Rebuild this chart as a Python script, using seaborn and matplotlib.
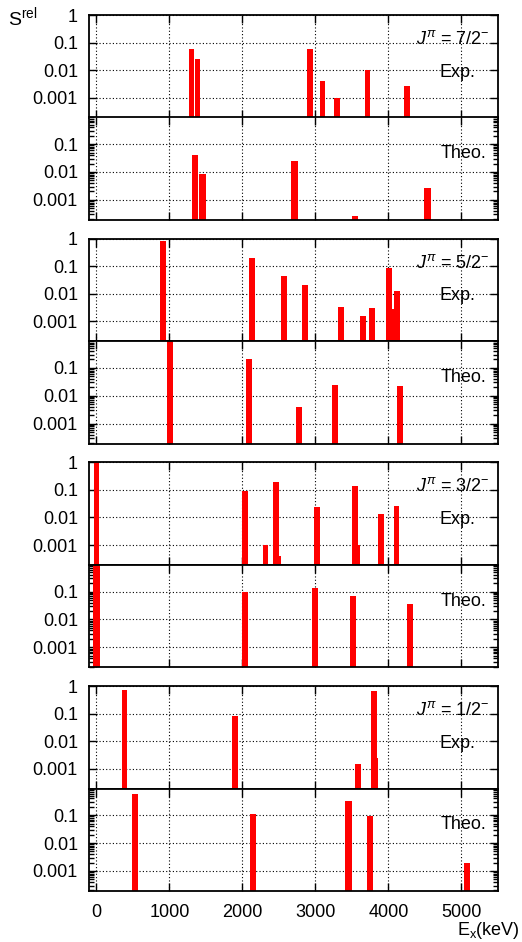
import numpy as np
import pandas as pd
import matplotlib
matplotlib.use("Agg")
import matplotlib.pyplot as plt
from matplotlib.ticker import LogLocator, FixedLocator, FuncFormatter, NullLocator
import seaborn as sns

# Relative spectroscopic strengths, excitation energy in keV
spins = ["7/2", "5/2", "3/2", "1/2"]

e_exp_72 = [1300, 1389, 2923, 3094, 3295, 3711, 4254]
s_exp_72 = [0.059, 0.0255, 0.059, 0.004, 0.001, 0.01, 0.0026]
e_theo_72 = [1352, 1452, 2712, 3544, 4537]
s_theo_72 = [0.04, 0.0087, 0.025, 0.000275, 0.0026]

e_exp_52 = [914, 2133, 2567, 2855, 3348, 3649, 3773, 4007, 4038, 4119]
s_exp_52 = [0.85, 0.2, 0.045, 0.02, 0.0034, 0.00156, 0.003, 0.087, 0.0029, 0.0129]
e_theo_52 = [1010, 2092, 2773, 3266, 4158]
s_theo_52 = [1.0, 0.2, 0.0038, 0.0245, 0.022]

e_exp_32 = [0, 2033, 2320, 2462, 2488, 3023, 3544, 3570, 3896, 4110]
s_exp_32 = [1.0, 0.095, 0.001, 0.19, 0.00039, 0.0244, 0.135, 0.001, 0.013, 0.027]
e_theo_32 = [0, 2037, 2996, 3516, 4295]
s_theo_32 = [1.0, 0.1, 0.13, 0.068, 0.036]

e_exp_12 = [389, 1900, 3581, 3800, 3818]
s_exp_12 = [0.72, 0.08, 0.0015, 0.66, 0.0024]
e_theo_12 = [530, 2147, 3455, 3749, 5078]
s_theo_12 = [0.58, 0.115, 0.33, 0.09, 0.002]

groups = [
    (e_exp_72, s_exp_72, e_theo_72, s_theo_72),
    (e_exp_52, s_exp_52, e_theo_52, s_theo_52),
    (e_exp_32, s_exp_32, e_theo_32, s_theo_32),
    (e_exp_12, s_exp_12, e_theo_12, s_theo_12),
]

x_ticks = [0, 1000, 2000, 3000, 4000, 5000]
exp_ticks = [0.001, 0.01, 0.1, 1]
theo_ticks = [0.001, 0.01, 0.1]

sns.set_theme(style="ticks")
plt.rcParams["font.family"] = ["Liberation Sans", "DejaVu Sans"]
plt.rcParams["mathtext.fontset"] = "custom"
plt.rcParams["mathtext.rm"] = "Liberation Sans"
plt.rcParams["mathtext.it"] = "Liberation Sans:italic"
plt.rcParams["mathtext.sf"] = "Liberation Sans"
plt.rcParams["axes.edgecolor"] = "black"
plt.rcParams["text.color"] = "black"
plt.rcParams["axes.labelcolor"] = "black"
plt.rcParams["xtick.color"] = "black"
plt.rcParams["ytick.color"] = "black"
plt.rcParams["xtick.labelcolor"] = "black"
plt.rcParams["ytick.labelcolor"] = "black"

W, H = 522, 942
fig = plt.figure(figsize=(W / 100, H / 100), dpi=100)

LEFT_PX, RIGHT_PX = 89, 498
PANEL_H = 102.5
TOP0, STEP = 15, 223.7
FS = 13


def panel(top_px):
    bottom_px = top_px + PANEL_H
    return fig.add_axes([LEFT_PX / W, 1 - bottom_px / H,
                         (RIGHT_PX - LEFT_PX) / W, PANEL_H / H])


def draw_bars(ax, energies, strengths, width_kev):
    df = pd.DataFrame({"E": energies, "S": strengths})
    unit = np.min(np.diff(np.unique(df["E"])))
    sns.barplot(data=df, x="E", y="S", native_scale=True, orient="x",
                width=width_kev / unit, color="#ff0000", saturation=1,
                errorbar=None, linewidth=0, ax=ax)


def style(ax, ylim, yticks, show_x):
    ax.set_xlim(-100, 5500)
    ax.set_ylim(*ylim)
    ax.set_xlabel("")
    ax.set_ylabel("")
    ax.xaxis.set_major_locator(FixedLocator(x_ticks))
    ax.xaxis.set_minor_locator(NullLocator())
    ax.yaxis.set_major_locator(FixedLocator(yticks))
    ax.yaxis.set_minor_locator(LogLocator(base=10, subs=np.arange(2, 10)))
    ax.yaxis.set_major_formatter(FuncFormatter(lambda v, p: f"{v:g}"))
    ax.tick_params(which="both", direction="in", top=True, right=True,
                   labelsize=FS, width=1.0, color="black",
                   labelcolor="black")
    ax.tick_params(axis="y", which="major", length=6, pad=8)
    ax.tick_params(axis="y", which="minor", length=3.5)
    ax.tick_params(axis="x", which="major", length=6, pad=9,
                   labelbottom=show_x)
    ax.grid(True, which="major", linestyle=(0, (1, 2)), color="black",
            linewidth=0.8)
    ax.set_axisbelow(True)
    for s in ax.spines.values():
        s.set_linewidth(1.3)
        s.set_color("black")
        s.set_visible(True)


for g, (e_exp, s_exp, e_th, s_th) in enumerate(groups):
    top = TOP0 + STEP * g
    ax_e = panel(top)
    ax_t = panel(top + PANEL_H)
    for ax in (ax_e, ax_t):
        ax.set_yscale("log")
    draw_bars(ax_e, e_exp, s_exp, 75)
    draw_bars(ax_t, e_th, s_th, 90)
    style(ax_e, (1.9e-4, 1.0), exp_ticks, False)
    style(ax_t, (1.9e-4, 0.9), theo_ticks, g == len(groups) - 1)

    ax_e.text(0.98, 0.717, r"$J^{\pi}$ = " + spins[g] + r"$^{-}$",
              transform=ax_e.transAxes, ha="right", va="baseline",
              fontsize=FS, color="black")
    ax_e.text(0.945, 0.398, "Exp.", transform=ax_e.transAxes,
              ha="right", va="baseline", fontsize=FS, color="black")
    ax_t.text(0.972, 0.602, "Theo.", transform=ax_t.transAxes,
              ha="right", va="baseline", fontsize=FS, color="black")

fig.text(8 / W, 1 - 5 / H, r"S$^{\rm rel}$", ha="left", va="top",
         fontsize=FS + 1, color="black")
fig.text(520 / W, 1 - 935 / H, r"E$_{\rm x}$(keV)", ha="right",
         va="baseline", fontsize=FS, color="black")

fig.savefig("out.png", dpi=100)
